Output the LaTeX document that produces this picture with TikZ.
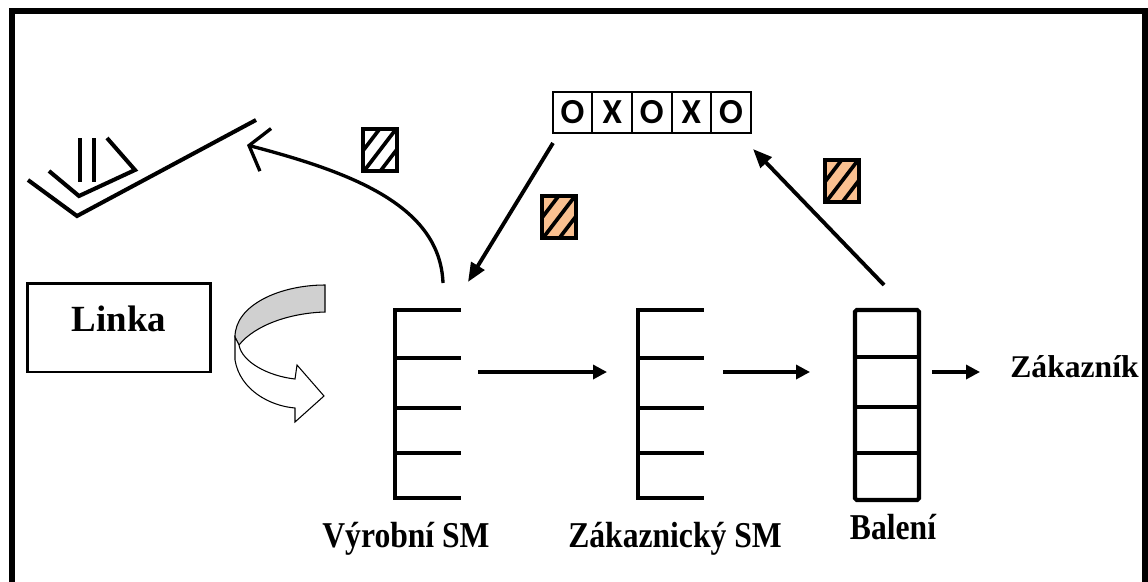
\documentclass[tikz,border=0pt]{standalone}
\usepackage{fontspec}
\setmainfont{Liberation Serif}
\newfontfamily\cellfont{Carlito}
\usetikzlibrary{arrows.meta}
\definecolor{cardorange}{RGB}{250,192,144}
\definecolor{turngray}{RGB}{208,208,208}

% kanban card: top-left corner, fill colour
\newcommand{\kanbancard}[3]{%
  \begin{scope}[shift={(#1,#2)}]
    \fill[#3] (0,0) rectangle (34,42);
    \begin{scope}
      \clip (0,0) rectangle (34,42);
      \foreach \k in {16.6,33.1,49.5}
        \draw[line width=2.1pt] (\k,0) -- (\k-32.1,42);
    \end{scope}
    \draw[line width=2.1pt] (0,0) rectangle (34,42);
  \end{scope}}

\begin{document}
\begin{tikzpicture}[x=0.02cm,y=-0.02cm,
  shelf/.style={line width=2.3pt,line cap=rect},
  belt/.style={line width=2.3pt},
  flow/.style={line width=1.9pt,-{Triangle[length=0.28cm,width=0.28cm]}},
  pull/.style={line width=2.2pt,-{Triangle[length=0.38cm,width=0.3cm]}},
  lbl/.style={font=\fontsize{18}{20}\selectfont\bfseries,inner sep=0pt},
  cell/.style={draw,line width=1.1pt,minimum width=0.792cm,minimum height=0.82cm,
    inner sep=0pt,outer sep=0pt,font=\cellfont\bfseries\fontsize{20}{22}\selectfont}]
\useasboundingbox (0,0) rectangle (1148,581);
% outer frame
\draw[line width=3.4pt] (12,590) -- (12,11) -- (1145,11) -- (1145,590);

% line
\node[draw,line width=1.7pt,minimum width=3.68cm,minimum height=1.78cm,
  text depth=0.36cm,font=\fontsize{21}{24}\selectfont\bfseries] (linka) at (119,327.5) {Linka};

% conveyor
\draw[belt] (28,180) -- (77,216) -- (256,120);
\draw[belt] (49,171) -- (79,196) -- (135,170) -- (107,138);
\draw[belt] (80,138) -- (80,182);
\draw[belt] (94,138) -- (94,182);
\coordinate (belt-end) at (247,145);

% u-turn arrow
\filldraw[fill=turngray,line width=0.6pt] (325,285) .. controls (280,285) and (235,305) .. (235,337)
  -- (239,345) .. controls (255,325) and (290,313) .. (325,312) -- cycle;
\filldraw[fill=white,line width=0.6pt] (235,337) -- (235,360) .. controls (240,390) and (270,406) .. (295,408)
  -- (295,422) -- (324,396) -- (297,365) -- (295,379) .. controls (268,376) and (242,362) .. (239,345) -- cycle;

% supermarkets
\foreach \x in {395,638} {
  \draw[shelf] (\x,310) -- (\x,498);
  \foreach \y in {310,358,408,453,498}
    \draw[shelf] (\x,\y) -- (\x+64,\y);
}
\draw[shelf,rounded corners=1pt] (855,310) rectangle (919,500);
\foreach \y in {357,407,453}
  \draw[shelf] (855,\y) -- (919,\y);

\node[lbl,anchor=base,yscale=1.15] (vyr-lbl) at (406,547) {Výrobní SM};
\node[lbl,anchor=base,yscale=1.15] (zak-lbl) at (675,547) {Zákaznický SM};
\node[lbl,anchor=base,yscale=1.15] (bal-lbl) at (893,539) {Balení};
\node[lbl,anchor=base west] (cust) at (1010,377) {Zákazník};

% material flow
\coordinate (vyr-out) at (478,372);
\coordinate (zak-in) at (607,372);
\coordinate (zak-out) at (723,372);
\coordinate (bal-in) at (810,372);
\coordinate (bal-out) at (932,372);
\coordinate (cust-in) at (980,372);
\draw[flow] (vyr-out) -- (zak-in);
\draw[flow] (zak-out) -- (bal-in);
\draw[flow] (bal-out) -- (cust-in);

% leveling box
\foreach \s [count=\i] in {O,X,O,X,O}
  \node[cell] (c\i) at (533+\i*39.6,112.5) {\s};

% kanban loops
\coordinate (vyr-top) at (443,283);
\draw[line width=1.9pt,-{Straight Barb[length=0.34cm,width=0.88cm]}]
  (vyr-top) .. controls (440,205) and (350,172) .. (belt-end);
\coordinate (xo-out) at (553,143);
\coordinate (vyr-in) at (468,282);
\draw[pull] (xo-out) -- (vyr-in);
\coordinate (bal-up) at (884,285);
\coordinate (xo-in) at (753,149);
\draw[pull] (bal-up) -- (xo-in);

\kanbancard{363}{129}{white}
\kanbancard{542}{196}{cardorange}
\kanbancard{825}{160}{cardorange}
\end{tikzpicture}
\end{document}
